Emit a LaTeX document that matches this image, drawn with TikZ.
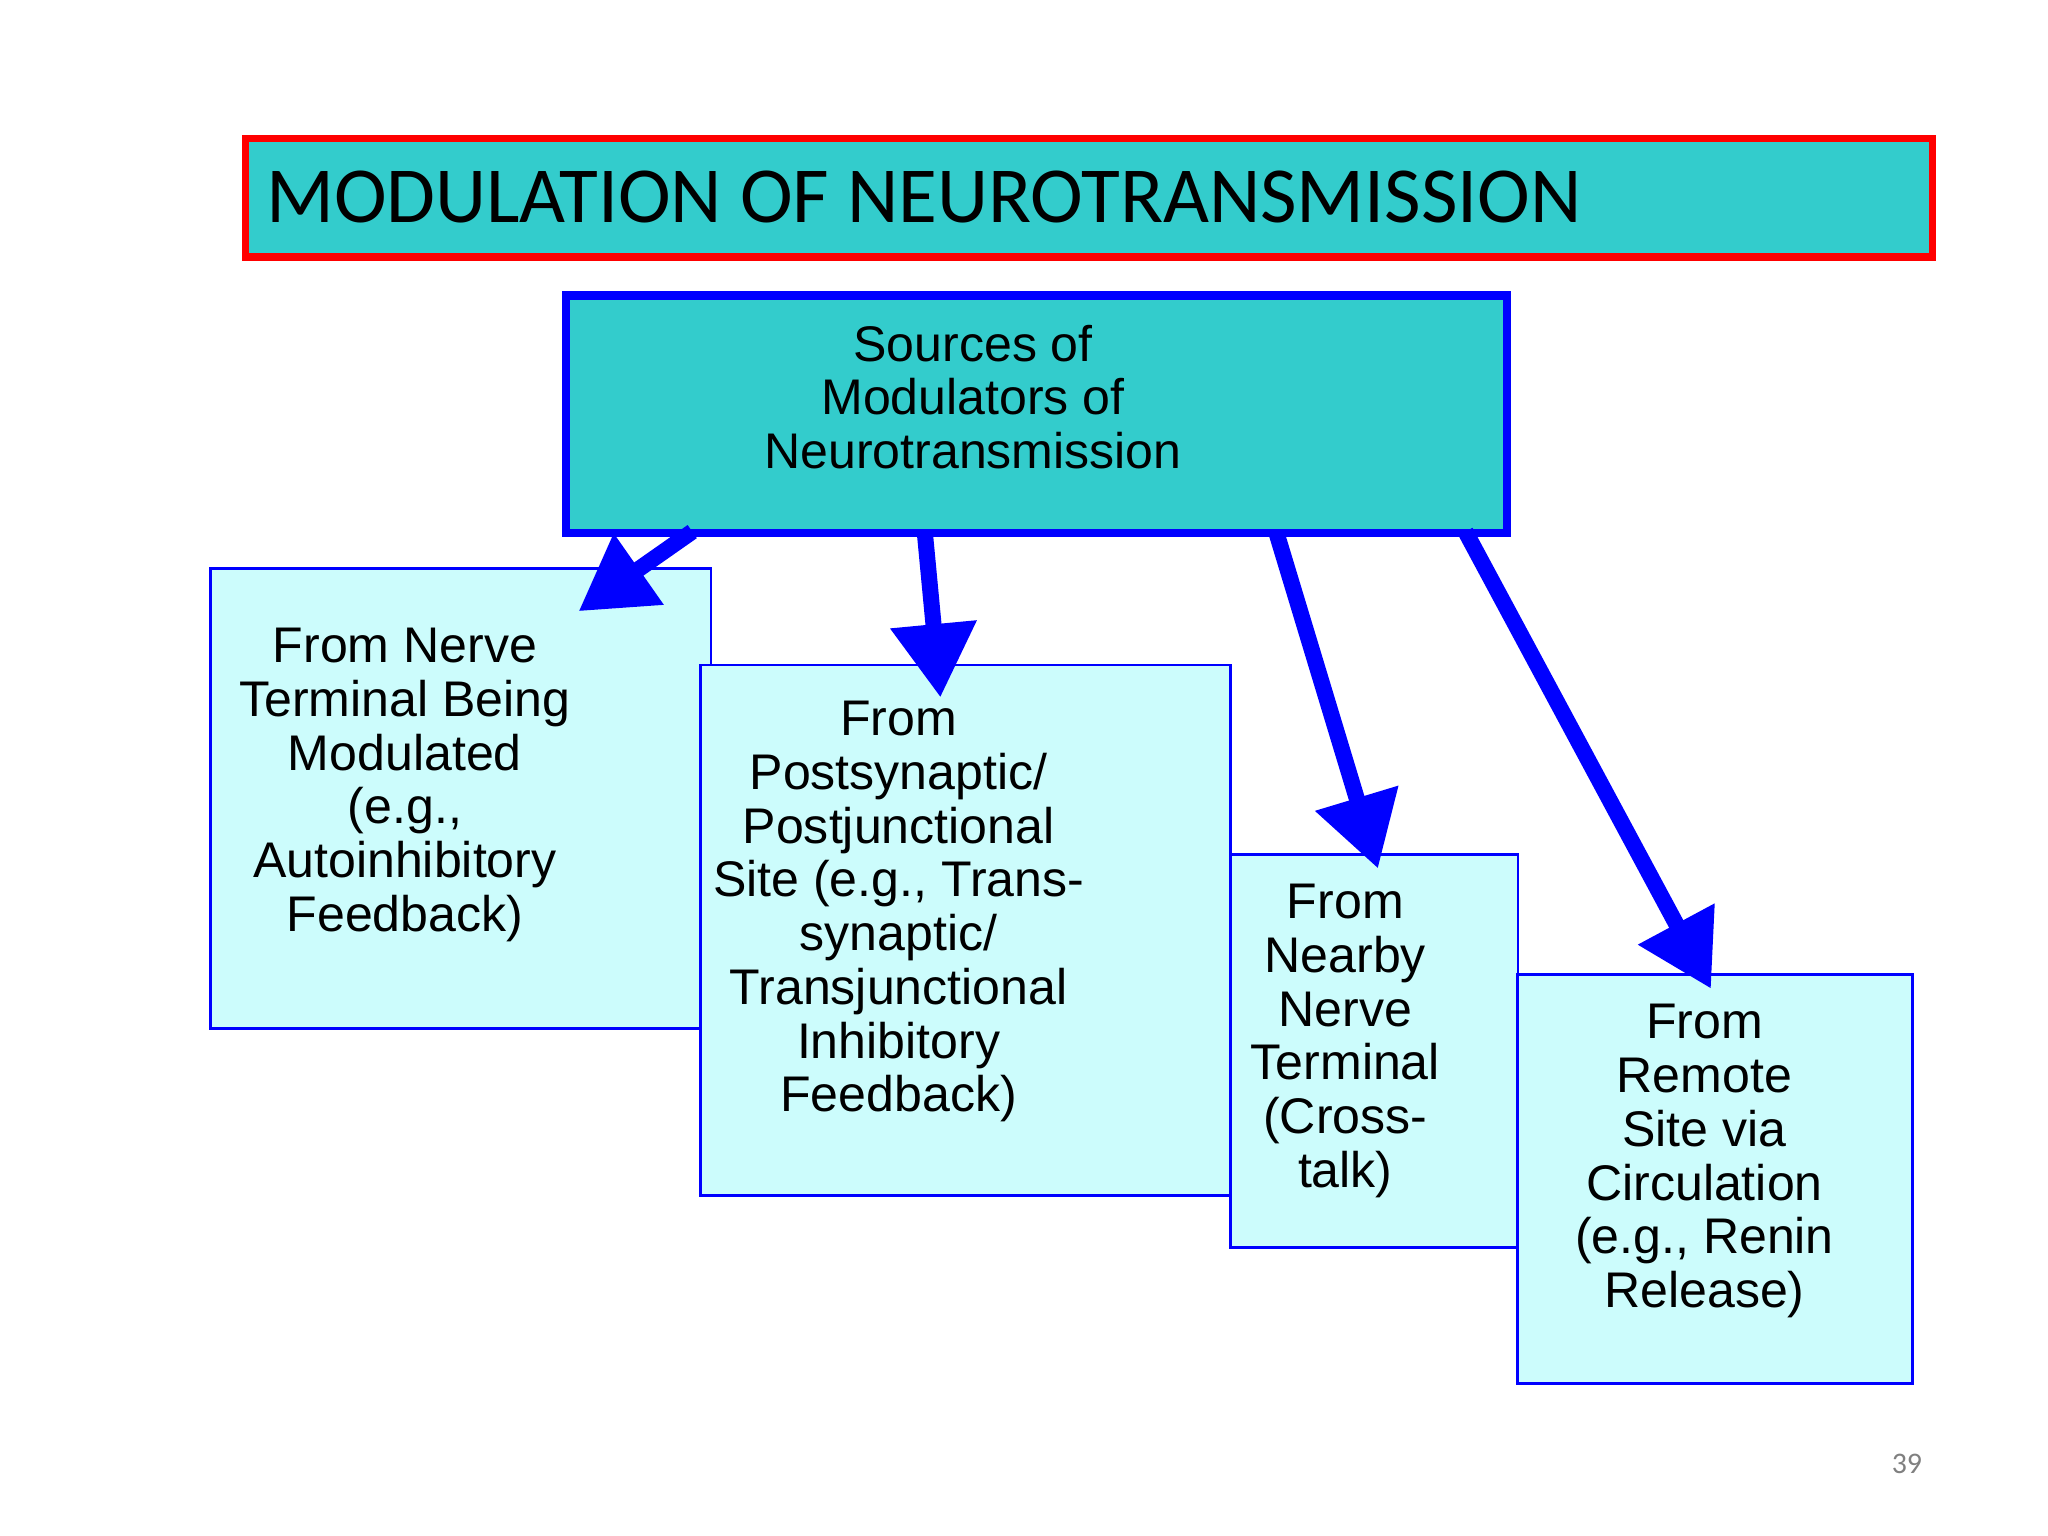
\documentclass[tikz,border=0pt]{standalone}
\usepackage{fontspec}
\setmainfont{Liberation Sans}
\newfontfamily\titlefont{Carlito}
\usetikzlibrary{arrows.meta}
\definecolor{teal1}{HTML}{33CCCC}
\definecolor{lcyan}{HTML}{CCFCFC}
\begin{document}
\begin{tikzpicture}[x=0.01cm,y=-0.01cm,
  sub/.style={draw=blue,line width=0.6pt,fill=lcyan,anchor=north west,inner sep=0pt},
  lbl/.style={align=center,font=\fontsize{10.9pt}{11.7pt}\selectfont},
  arr/.style={draw=blue,line width=3.5pt,-{Triangle[length=16pt,width=18pt]}}]
\useasboundingbox (0,0) rectangle (1568,1176);
\fill[white] (0,0) rectangle (1568,1176);
\node[draw=red,line width=1.6pt,fill=teal1,anchor=north west,inner sep=0pt,minimum width=12.91cm,minimum height=0.91cm] (title) at (185,103) {};
\node[anchor=west,inner sep=0pt,font=\titlefont\fontsize{17.3pt}{19pt}\selectfont] (tt) at (203,151) {MODULATION OF NEUROTRANSMISSION};
\node[draw=blue,line width=1.8pt,fill=teal1,anchor=north west,inner sep=0pt,minimum width=7.2cm,minimum height=1.82cm] (src) at (430,223) {};
\node[lbl] (srct) at (745,304) {Sources of\\Modulators of\\Neurotransmission};
\node[sub,minimum width=3.83cm,minimum height=3.52cm] (b1) at (160,434) {};
\node[lbl] (t1) at (310,601) {From Nerve\\Terminal Being\\Modulated\\(e.g.,\\Autoinhibitory\\Feedback)};
\node[sub,minimum width=4.06cm,minimum height=4.06cm] (b2) at (535,508) {};
\node[lbl] (t2) at (688,698) {From\\Postsynaptic/\\Postjunctional\\Site (e.g., Trans-\\synaptic/\\Transjunctional\\Inhibitory\\Feedback)};
\node[sub,minimum width=2.2cm,minimum height=3.01cm] (b3) at (941,653) {};
\node[lbl] (t3) at (1030,797) {From\\Nearby\\Nerve\\Terminal\\(Cross-\\talk)};
\node[sub,minimum width=3.02cm,minimum height=3.13cm] (b4) at (1161,745) {};
\node[lbl] (t4) at (1305,889) {From\\Remote\\Site via\\Circulation\\(e.g., Renin\\Release)};
\coordinate (s1) at (530,407); \coordinate (e1) at (443,468);
\coordinate (s2) at (708,407); \coordinate (e2) at (720,534);
\coordinate (s3) at (977,407); \coordinate (e3) at (1055,665);
\coordinate (s4) at (1122,407); \coordinate (e4) at (1310,757);
\draw[arr] (s1) -- (e1);
\draw[arr] (s2) -- (e2);
\draw[arr] (s3) -- (e3);
\draw[arr] (s4) -- (e4);
\node[text=gray,font=\titlefont\fontsize{6.5pt}{8pt}\selectfont] (pg) at (1460,1121) {39};
\end{tikzpicture}
\end{document}
